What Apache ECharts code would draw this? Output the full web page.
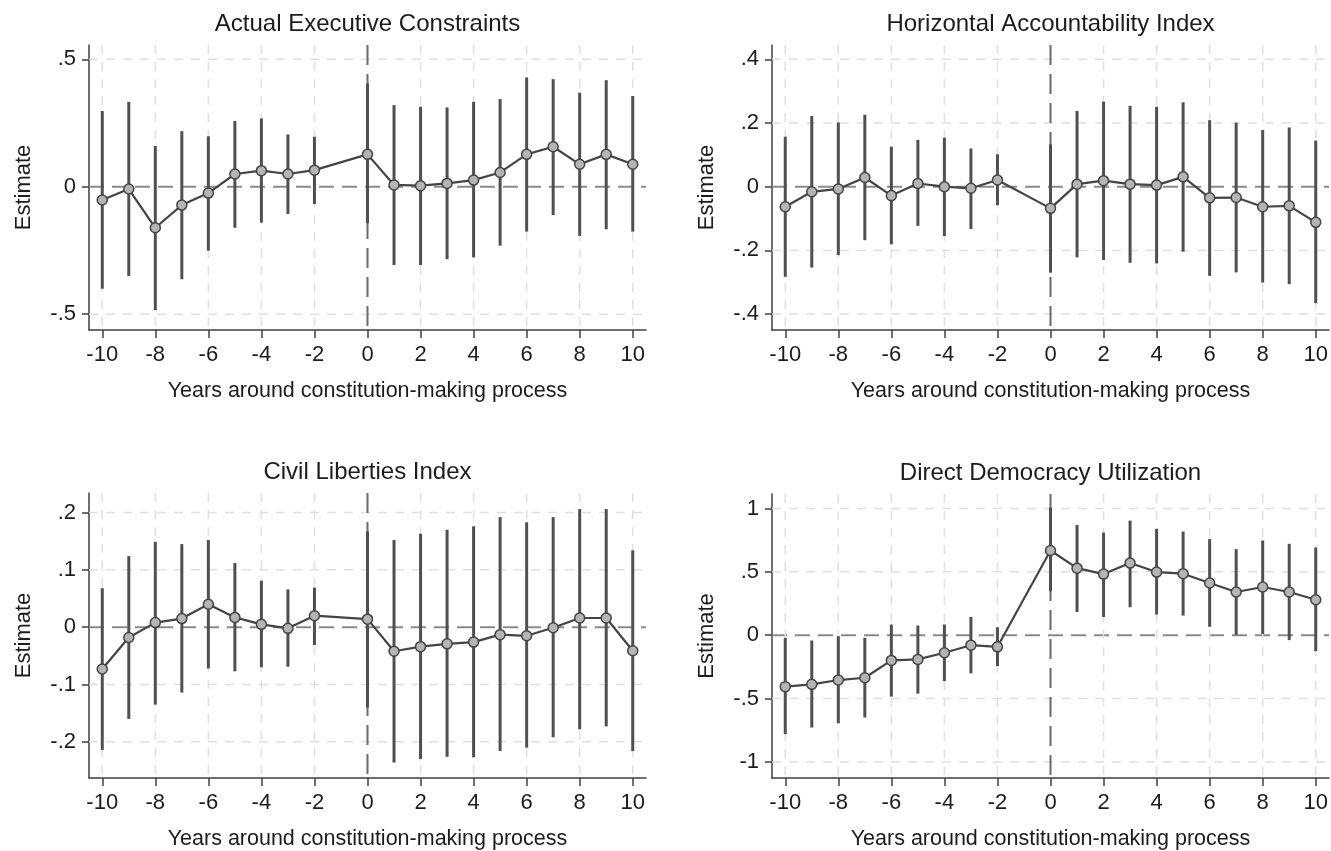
<!DOCTYPE html>
<html>
<head>
<meta charset="utf-8">
<script src="https://cdn.jsdelivr.net/npm/echarts@6/dist/echarts.min.js"></script>
<style>
html,body{margin:0;padding:0;background:#fff;}
#chart{width:1331px;height:851px;}
</style>
</head>
<body>
<div id="chart"></div>
<script>
// years around the process (no estimate at -1)
var years = [-10,-9,-8,-7,-6,-5,-4,-3,-2,0,1,2,3,4,5,6,7,8,9,10];
var xTicks = [-10,-8,-6,-4,-2,0,2,4,6,8,10];

// Actual Executive Constraints
var aecEst = [-0.052,-0.009,-0.161,-0.072,-0.025,0.050,0.063,0.050,0.065,0.127,0.007,0.004,0.013,0.026,0.056,0.127,0.157,0.088,0.127,0.088];
var aecLo = [-0.400,-0.350,-0.484,-0.363,-0.251,-0.161,-0.141,-0.107,-0.068,-0.143,-0.307,-0.307,-0.284,-0.277,-0.231,-0.176,-0.111,-0.193,-0.167,-0.176];
var aecHi = [0.297,0.333,0.160,0.218,0.198,0.258,0.268,0.205,0.196,0.405,0.320,0.314,0.311,0.333,0.344,0.429,0.422,0.369,0.418,0.356];
var aecTicks = [-0.5,0,0.5];

// Horizontal Accountability Index
var haiEst = [-0.063,-0.016,-0.007,0.029,-0.028,0.010,0.000,-0.005,0.021,-0.068,0.008,0.019,0.008,0.005,0.031,-0.035,-0.034,-0.063,-0.060,-0.112];
var haiLo = [-0.283,-0.254,-0.215,-0.168,-0.181,-0.123,-0.155,-0.133,-0.058,-0.270,-0.222,-0.230,-0.239,-0.241,-0.204,-0.280,-0.269,-0.301,-0.306,-0.366];
var haiHi = [0.157,0.222,0.202,0.226,0.126,0.147,0.154,0.120,0.102,0.133,0.238,0.267,0.254,0.251,0.265,0.209,0.201,0.178,0.186,0.145];
var haiTicks = [-0.4,-0.2,0,0.2,0.4];

// Civil Liberties Index
var cliEst = [-0.073,-0.018,0.008,0.015,0.040,0.017,0.005,-0.002,0.020,0.014,-0.042,-0.034,-0.029,-0.026,-0.013,-0.015,-0.001,0.016,0.016,-0.041];
var cliLo = [-0.214,-0.160,-0.135,-0.114,-0.072,-0.077,-0.070,-0.069,-0.031,-0.140,-0.236,-0.230,-0.226,-0.227,-0.216,-0.210,-0.192,-0.178,-0.173,-0.216];
var cliHi = [0.068,0.124,0.149,0.145,0.152,0.112,0.081,0.066,0.069,0.167,0.152,0.163,0.170,0.176,0.192,0.183,0.192,0.206,0.206,0.134];
var cliTicks = [-0.2,-0.1,0,0.1,0.2];

// Direct Democracy Utilization
var dduEst = [-0.406,-0.388,-0.354,-0.336,-0.199,-0.191,-0.139,-0.079,-0.092,0.668,0.529,0.482,0.569,0.498,0.485,0.412,0.341,0.380,0.341,0.280];
var dduLo = [-0.781,-0.729,-0.695,-0.650,-0.485,-0.461,-0.362,-0.301,-0.244,0.346,0.183,0.144,0.220,0.163,0.155,0.066,0.003,0.010,-0.039,-0.126];
var dduHi = [-0.021,-0.042,-0.008,-0.021,0.084,0.076,0.084,0.144,0.063,1.007,0.870,0.810,0.904,0.839,0.818,0.758,0.679,0.747,0.721,0.692];
var dduTicks = [-1,-0.5,0,0.5,1];

var titles = ["Actual Executive Constraints", "Horizontal Accountability Index", "Civil Liberties Index", "Direct Democracy Utilization"];
var xName = "Years around constitution-making process";
var yName = "Estimate";

var panels = [
	{est: aecEst, lo: aecLo, hi: aecHi, ticks: aecTicks, min: -0.562, max: 0.556, left: 89, top: 45},
	{est: haiEst, lo: haiLo, hi: haiHi, ticks: haiTicks, min: -0.450, max: 0.445, left: 772, top: 45},
	{est: cliEst, lo: cliLo, hi: cliHi, ticks: cliTicks, min: -0.263, max: 0.234, left: 89, top: 493},
	{est: dduEst, lo: dduLo, hi: dduHi, ticks: dduTicks, min: -1.127, max: 1.114, left: 772, top: 494}
];
var plotW = 557, plotH = 285;
var axisColor = '#3f3f3f', textColor = '#1c1c1c';
var fontFam = '"Liberation Sans", Arial, sans-serif';

//stata style tick labels: .5 instead of 0.5
function stataLabel(v){
	if (Math.abs(v) < 1e-9) return '0';
	return String(+v.toFixed(3)).replace('0.', '.');
}

function hGrid(params, api){
	var cs = params.coordSys;
	var v = api.value(1);
	var y = api.coord([0, v])[1];
	var zero = Math.abs(v) < 1e-9;
	return {type: 'line', shape: {x1: cs.x, y1: y, x2: cs.x + cs.width, y2: y},
		style: zero ? {stroke: '#8a8a8a', lineWidth: 2, lineDash: [15, 8]} : {stroke: '#e0e0e0', lineWidth: 1.5, lineDash: [9, 8]}};
}
function vGrid(params, api){
	var cs = params.coordSys;
	var v = api.value(0);
	var x = api.coord([v, 0])[0];
	var zero = Math.abs(v) < 1e-9;
	return {type: 'line', shape: {x1: x, y1: cs.y, x2: x, y2: cs.y + cs.height},
		style: zero ? {stroke: '#6a6a6a', lineWidth: 2, lineDash: [20, 9]} : {stroke: '#e0e0e0', lineWidth: 1.5, lineDash: [9, 8]}};
}
function ciBar(params, api){
	var x = api.value(0);
	var p1 = api.coord([x, api.value(1)]);
	var p2 = api.coord([x, api.value(2)]);
	return {type: 'line', shape: {x1: p1[0], y1: p1[1], x2: p2[0], y2: p2[1]},
		style: {stroke: '#505050', lineWidth: 3}};
}

var option = {
	backgroundColor: '#fff',
	animation: false,
	title: [], grid: [], xAxis: [], yAxis: [], series: []
};

for (var i = 0; i < panels.length; i++){
	var p = panels[i];
	option.title.push({
		text: titles[i], left: p.left + plotW / 2, top: p.top - 33, textAlign: 'center', padding: 0,
		textStyle: {fontFamily: fontFam, fontSize: 24, fontWeight: 'normal', color: textColor}
	});
	option.grid.push({left: p.left, top: p.top, width: plotW, height: plotH});
	option.xAxis.push({
		type: 'value', gridIndex: i, min: -10.5, max: 10.5,
		name: xName, nameLocation: 'middle', nameGap: 50,
		nameTextStyle: {fontFamily: fontFam, fontSize: 21.5, color: textColor},
		axisLine: {show: true, onZero: false, lineStyle: {color: axisColor, width: 1.5}},
		axisTick: {show: true, customValues: xTicks, length: 8, lineStyle: {color: axisColor, width: 1.5}},
		axisLabel: {customValues: xTicks, margin: 14, fontFamily: fontFam, fontSize: 22, color: textColor},
		splitLine: {show: false}
	});
	option.yAxis.push({
		type: 'value', gridIndex: i, min: p.min, max: p.max,
		name: yName, nameLocation: 'middle', nameGap: 54, nameRotate: 90,
		nameTextStyle: {fontFamily: fontFam, fontSize: 22, color: textColor},
		axisLine: {show: true, onZero: false, lineStyle: {color: axisColor, width: 1.5}},
		axisTick: {show: true, customValues: p.ticks, length: 7, lineStyle: {color: axisColor, width: 1.5}},
		axisLabel: {customValues: p.ticks, margin: 13, fontFamily: fontFam, fontSize: 22, color: textColor, formatter: stataLabel},
		splitLine: {show: false}
	});
	option.series.push({
		type: 'custom', xAxisIndex: i, yAxisIndex: i, z: 1, silent: true,
		renderItem: hGrid, data: p.ticks.map(function(v){ return [0, v]; })
	});
	option.series.push({
		type: 'custom', xAxisIndex: i, yAxisIndex: i, z: 1, silent: true,
		renderItem: vGrid, data: xTicks.map(function(v){ return [v, 0]; })
	});
	option.series.push({
		type: 'custom', xAxisIndex: i, yAxisIndex: i, z: 3,
		encode: {x: 0, y: [1, 2]},
		renderItem: ciBar,
		data: years.map(function(x, k){ return [x, p.lo[k], p.hi[k]]; })
	});
	option.series.push({
		type: 'line', xAxisIndex: i, yAxisIndex: i, z: 4,
		symbol: 'circle', symbolSize: 10, showSymbol: true,
		itemStyle: {color: '#b4b4b4', borderColor: '#444', borderWidth: 1.5},
		lineStyle: {color: '#444', width: 2.2},
		data: years.map(function(x, k){ return [x, p.est[k]]; })
	});
}

var chart = echarts.init(document.getElementById('chart'));
chart.setOption(option);
</script>
</body>
</html>
